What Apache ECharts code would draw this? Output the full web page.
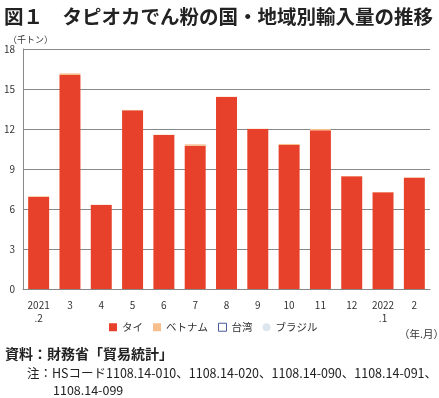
<!DOCTYPE html>
<html><head><meta charset="utf-8">
<script src="https://cdn.jsdelivr.net/npm/echarts@6/dist/echarts.min.js"></script>
<style>html,body{margin:0;padding:0;background:#fff}#c{width:439px;height:398px}</style>
</head><body><div id="c"></div>
<script>
const categories = ['2021\n.2','3','4','5','6','7','8','9','10','11','12','2022\n.1','2'];
const thai    = [6.9, 16.05, 6.3, 13.4, 11.55, 10.75, 14.4, 12.0, 10.8, 11.9, 8.45, 7.25, 8.35];
const vietnam = [0.05, 0.12, 0.02, 0.03, 0.02, 0.1, 0.02, 0.02, 0.08, 0.1, 0.02, 0.02, 0.03];
const taiwan  = [0, 0, 0, 0, 0, 0, 0, 0, 0, 0, 0, 0, 0];
const brazil  = [0, 0, 0, 0, 0, 0, 0, 0, 0, 0, 0, 0, 0];
const yTicks = {min: 0, max: 18, interval: 3};

const FONT = '"Noto Sans CJK JP", "Noto Sans", sans-serif';
const chart = echarts.init(document.getElementById('c'), null, {renderer: 'canvas'});
chart.setOption({
  animation: false,
  textStyle: {fontFamily: FONT},
  title: [
    {text: '図１　タピオカでん粉の国・地域別輸入量の推移', left: -1, top: 2,
     textStyle: {fontFamily: FONT, fontSize: 19.5, fontWeight: 'bold', color: '#222'}},
    {text: '（千トン）', left: 3, top: 30, textStyle: {fontFamily: FONT, fontSize: 9, fontWeight: 'normal', color: '#333'}},
    {text: '（年.月）', left: 394, top: 324, textStyle: {fontFamily: FONT, fontSize: 10.5, fontWeight: 'normal', color: '#333'}},
    {text: '資料：財務省「貿易統計」', left: 0, top: 342, textStyle: {fontFamily: FONT, fontSize: 14, fontWeight: 'bold', color: '#222'}},
    {text: '注：HSコード1108.14-010、1108.14-020、1108.14-090、1108.14-091、', left: 22, top: 362, textStyle: {fontFamily: FONT, fontSize: 12.5, fontWeight: 'normal', color: '#222'}},
    {text: '1108.14-099', left: 48, top: 379, textStyle: {fontFamily: FONT, fontSize: 12.5, fontWeight: 'normal', color: '#222'}}
  ],
  legend: {
    left: 104, top: 317, itemWidth: 8, itemHeight: 8, itemGap: 10,
    textStyle: {fontFamily: FONT, fontSize: 10.5, color: '#333'},
    data: [
      {name: 'タイ', icon: 'rect'},
      {name: 'ベトナム', icon: 'rect'},
      {name: '台湾', icon: 'rect', itemStyle: {color: '#fff', borderColor: '#4a5a9a', borderWidth: 1}},
      {name: 'ブラジル', icon: 'circle'}
    ]
  },
  grid: {left: 23, right: 9, top: 49, bottom: 109, containLabel: false},
  xAxis: {
    type: 'category', data: categories,
    axisLine: {lineStyle: {color: '#888', width: 1}},
    axisTick: {show: false},
    axisLabel: {fontSize: 10, color: '#333', margin: 10, lineHeight: 13, interval: 0, fontFamily: FONT}
  },
  yAxis: {
    type: 'value', min: yTicks.min, max: yTicks.max, interval: yTicks.interval,
    axisLine: {show: true, lineStyle: {color: '#888', width: 1}},
    axisTick: {show: false},
    axisLabel: {fontSize: 10, color: '#333', margin: 8, fontFamily: FONT},
    splitLine: {lineStyle: {color: '#888', width: 1}}
  },
  series: [
    {name: 'タイ', type: 'bar', stack: 'a', data: thai, barCategoryGap: '33%', itemStyle: {color: '#e8412b', borderWidth: 0}},
    {name: 'ベトナム', type: 'bar', stack: 'a', data: vietnam, itemStyle: {color: '#f7bf8c', borderWidth: 0}},
    {name: '台湾', type: 'bar', stack: 'a', data: taiwan, itemStyle: {color: '#fff', borderColor: '#4a5a9a', borderWidth: 0}},
    {name: 'ブラジル', type: 'bar', stack: 'a', data: brazil, itemStyle: {color: '#dde6ee', borderWidth: 0}}
  ]
});
</script></body></html>
